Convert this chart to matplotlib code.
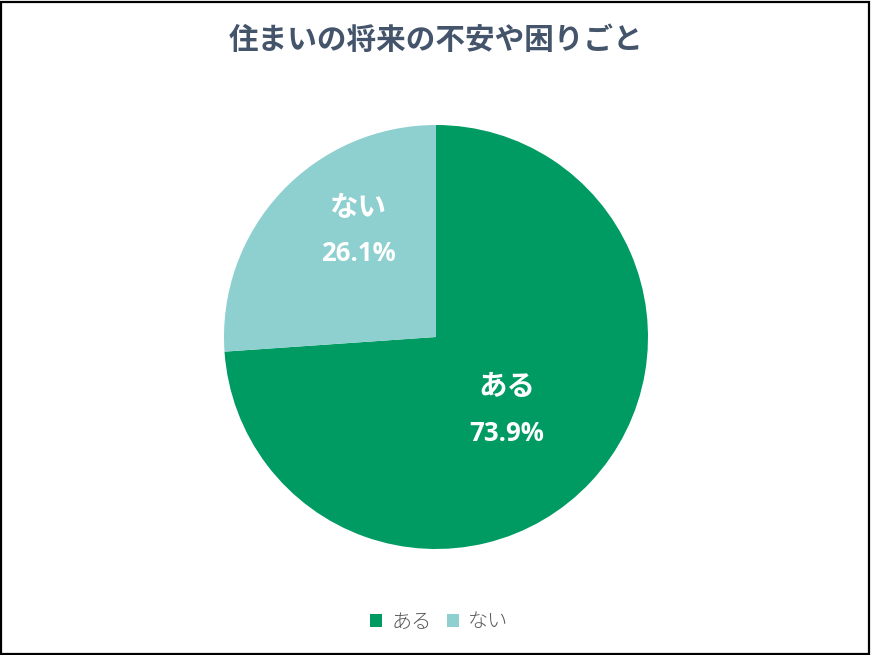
import matplotlib
matplotlib.use("Agg")
import matplotlib.pyplot as plt
from matplotlib.patches import Rectangle

plt.rcParams['font.family'] = ['Noto Sans CJK JP', 'DejaVu Sans']

title = "住まいの将来の不安や困りごと"
categories = ["ある", "ない"]
values = [73.9, 26.1]
colors = ["#009B63", "#8ECFD0"]

W, H = 871, 655
fig = plt.figure(figsize=(W / 100, H / 100), dpi=100)
fig.patch.set_facecolor("white")

cx, cy, r = 436, 337, 212
ax = fig.add_axes([(cx - r) / W, (H - cy - r) / H, 2 * r / W, 2 * r / H])
wedges, _ = ax.pie(values, colors=colors, startangle=90, counterclock=False,
                   radius=1, wedgeprops=dict(linewidth=0))
ax.set_xlim(-1, 1)
ax.set_ylim(-1, 1)
ax.set_aspect("auto")
ax.axis("off")

# label anchor positions (data coords, relative to the pie)
label_pos = [(0.335, -0.236, -0.453), (-0.368, 0.608, 0.396)]
for cat, val, (lx, ly1, ly2) in zip(categories, values, label_pos):
    ax.text(lx, ly1, cat, ha="center", va="center", color="white",
            fontsize=20.5, fontweight="bold")
    ax.text(lx, ly2, f"{val:.1f}%", ha="center", va="center", color="white",
            fontsize=18.5, fontweight="bold", family=["Open Sans", "DejaVu Sans"])

fig.text(436 / W, 1 - 40 / H, title, ha="center", va="center",
         color="#44546A", fontsize=21.3, fontweight="bold")

leg = fig.legend(wedges, categories, loc="center", bbox_to_anchor=(439 / W, 1 - 622 / H),
                 ncol=2, frameon=False, handlelength=0.6, handleheight=0.6,
                 handletextpad=0.45, columnspacing=0.75,
                 prop=dict(family=["Noto Sans CJK JP"], size=14.5, weight="light"))
for t in leg.get_texts():
    t.set_color("#595959")

fig.add_artist(Rectangle((0.001, 0.0015), 0.997, 0.996, transform=fig.transFigure,
                         fill=False, edgecolor="black", linewidth=1.6))

fig.savefig("out.png", dpi=100)
